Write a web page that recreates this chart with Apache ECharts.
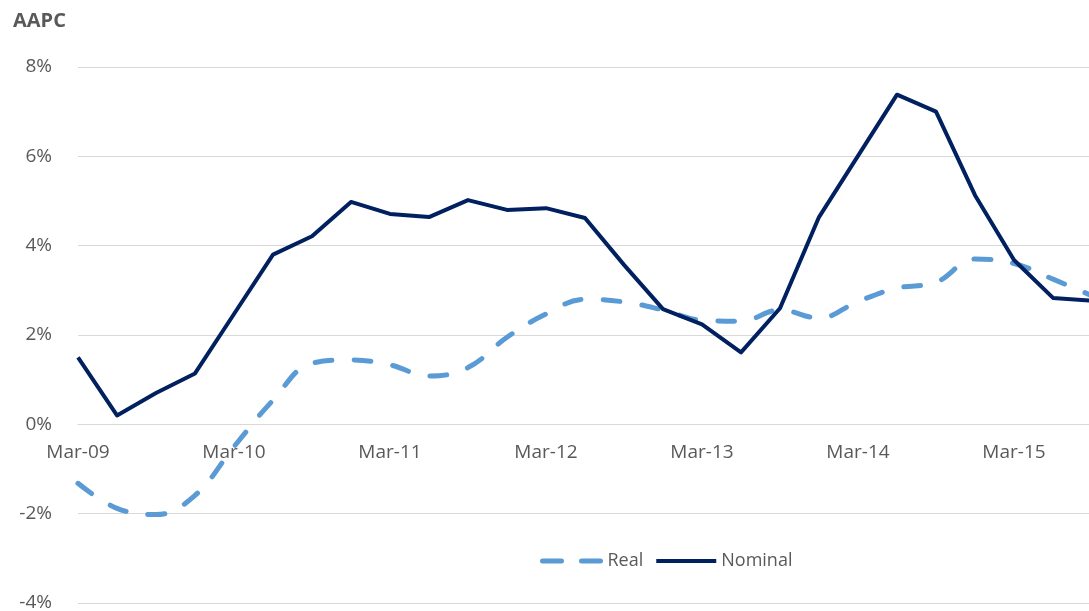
<!DOCTYPE html>
<html lang="en">
<head>
    <meta charset="UTF-8">
    <title>AAPC</title>
    <script src="https://cdn.jsdelivr.net/npm/echarts@6.0.0/dist/echarts.min.js"></script>
    <style>
      html, body { margin: 0; padding: 0; background: #fff; }
    </style>
</head>
<body>

    <div id="main" style="width: 1089px;height:611px;"></div>

    <script type="text/javascript">

      // quarters, Mar-09 to Sep-15
      var quarters = [
        'Mar-09', 'Jun-09', 'Sep-09', 'Dec-09',
        'Mar-10', 'Jun-10', 'Sep-10', 'Dec-10',
        'Mar-11', 'Jun-11', 'Sep-11', 'Dec-11',
        'Mar-12', 'Jun-12', 'Sep-12', 'Dec-12',
        'Mar-13', 'Jun-13', 'Sep-13', 'Dec-13',
        'Mar-14', 'Jun-14', 'Sep-14', 'Dec-14',
        'Mar-15', 'Jun-15', 'Sep-15'
      ]

      // values (%)
      var nominal = [1.50, 0.20, 0.70, 1.14, 2.47, 3.80, 4.21, 4.98, 4.71, 4.64, 5.02, 4.80, 4.84, 4.62,
                     3.57, 2.58, 2.24, 1.61, 2.60, 4.64, 6.01, 7.38, 7.00, 5.13, 3.68, 2.83, 2.77]
      var real = [-1.32, -1.88, -2.02, -1.59, -0.50, 0.54, 1.37, 1.44, 1.33, 1.08, 1.27, 1.95, 2.47, 2.80,
                  2.74, 2.56, 2.33, 2.31, 2.56, 2.38, 2.75, 3.05, 3.18, 3.70, 3.60, 3.25, 2.88]

      var font = '"Open Sans", sans-serif'
      var grey = '#595959'
      var lightBlue = '#5B9BD5'
      var navy = '#002060'

      var myChart = echarts.init(document.getElementById('main'));

      var option = {
        animation: false,
        title: {
          text: 'AAPC',
          left: 8,
          top: 6,
          textStyle: { fontFamily: font, fontSize: 20, fontWeight: 'bold', color: grey }
        },
        legend: {
          data: [
            { name: 'Real', lineStyle: { color: lightBlue, width: 5, type: [19, 20], cap: 'round' } },
            { name: 'Nominal', lineStyle: { color: navy, width: 4 } }
          ],
          left: 535,
          top: 547,
          itemWidth: 60,
          itemHeight: 14,
          itemGap: 11,
          itemStyle: { opacity: 0 },
          textStyle: { fontFamily: font, fontSize: 18, color: grey, padding: [0, 0, 0, 0] }
        },
        grid: {
          left: 78,
          right: -3,
          top: 67,
          bottom: 8,
          outerBoundsMode: 'none'
        },
        xAxis: {
          type: 'category',
          data: quarters,
          boundaryGap: false,
          position: 'bottom',
          // axis sits on the 0% line (plot bottom is -4%)
          offset: -179,
          axisLine: { onZero: false, lineStyle: { color: '#D9D9D9' } },
          axisTick: { show: false },
          axisLabel: {
            interval: 3,
            margin: 19,
            fontFamily: font,
            fontSize: 19,
            color: grey
          },
          splitLine: { show: false }
        },
        yAxis: {
          type: 'value',
          min: -4,
          max: 8,
          interval: 2,
          axisLine: { show: false },
          axisTick: { show: false },
          axisLabel: {
            margin: 26,
            fontFamily: font,
            fontSize: 19,
            color: grey,
            formatter: '{value}%'
          },
          splitLine: { lineStyle: { color: '#D9D9D9', width: 1 } }
        },
        series: [
          {
            name: 'Real',
            type: 'line',
            data: real,
            smooth: 0.4,
            symbol: 'none',
            itemStyle: { color: lightBlue },
            lineStyle: { color: lightBlue, width: 5, type: [17, 22], cap: 'round' },
            z: 2
          },
          {
            name: 'Nominal',
            type: 'line',
            data: nominal,
            symbol: 'none',
            itemStyle: { color: navy },
            lineStyle: { color: navy, width: 4, join: 'round' },
            z: 3
          }
        ]
      };

      myChart.setOption(option);

    </script>
  </body>
</html>
